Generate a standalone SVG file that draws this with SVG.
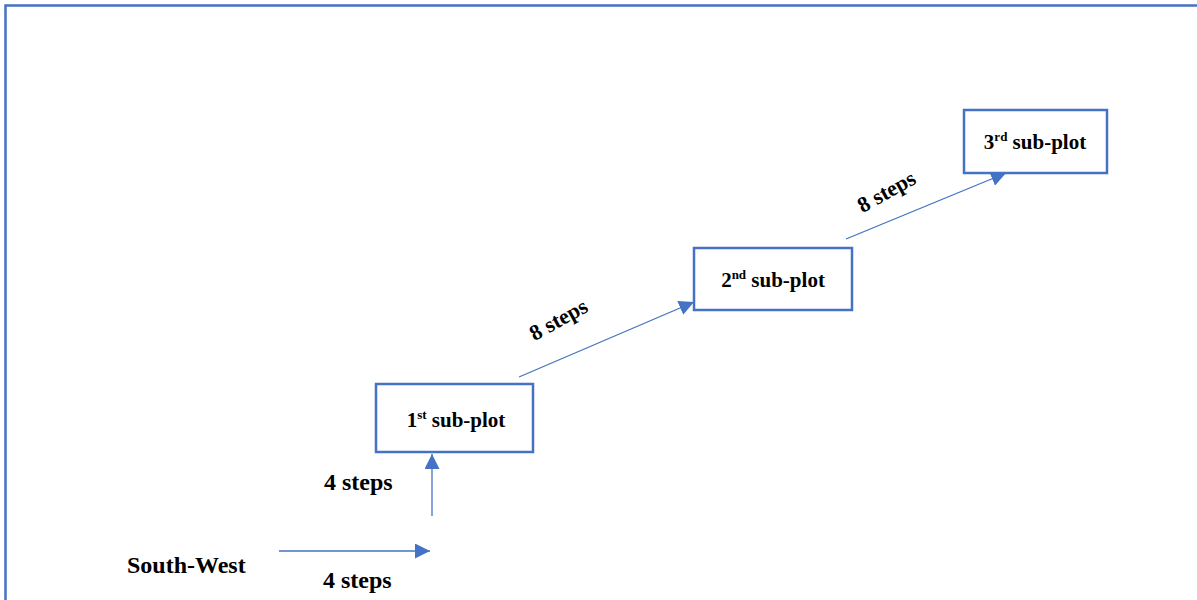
<svg xmlns="http://www.w3.org/2000/svg" width="1197" height="600" viewBox="0 0 1197 600">
<style>
.box{fill:#fff;stroke:#4472C4;stroke-width:2.5}
.lbl{font-family:"Liberation Serif","Times New Roman",serif;font-weight:bold;fill:#000}
.bt{font-size:21px}
.st{font-size:24px}
.rt{font-size:22px}
.conn{stroke:#4472C4;stroke-width:1.3;fill:none}
</style>
<defs>
<marker id="ah" viewBox="0 0 10 10" refX="10" refY="5" markerWidth="15" markerHeight="15" markerUnits="userSpaceOnUse" orient="auto">
<path d="M0,0 L10,5 L0,10 z" fill="#4472C4"/>
</marker>
</defs>
<rect width="1197" height="600" fill="#fff"/>
<path d="M5.5,600 V5.5 H1197" fill="none" stroke="#4472C4" stroke-width="2.5"/>
<g id="connectors">
<line class="conn" x1="279" y1="551" x2="430" y2="551" marker-end="url(#ah)"/>
<line class="conn" x1="432" y1="516" x2="432" y2="454" marker-end="url(#ah)"/>
<line class="conn" x1="519" y1="377" x2="694" y2="302" marker-end="url(#ah)"/>
<line class="conn" x1="846" y1="239" x2="1006" y2="173" marker-end="url(#ah)"/>
</g>
<g id="n-sw"><text class="lbl st" x="127" y="573">South-West</text></g>
<g id="n1">
<rect class="box" x="376" y="384" width="157" height="68"/>
<text class="lbl bt" x="456" y="427" text-anchor="middle">1<tspan font-size="13" dy="-8">st</tspan><tspan dy="8"> sub-plot</tspan></text>
</g>
<g id="n2">
<rect class="box" x="694" y="248" width="158" height="62"/>
<text class="lbl bt" x="773" y="287" text-anchor="middle">2<tspan font-size="13" dy="-8">nd</tspan><tspan dy="8"> sub-plot</tspan></text>
</g>
<g id="n3">
<rect class="box" x="964" y="110" width="143" height="63"/>
<text class="lbl bt" x="1035" y="149" text-anchor="middle">3<tspan font-size="13" dy="-8">rd</tspan><tspan dy="8"> sub-plot</tspan></text>
</g>
<g id="labels">
<text class="lbl st" x="324" y="490">4 steps</text>
<text class="lbl st" x="323" y="588">4 steps</text>
<text class="lbl rt" x="562" y="326" text-anchor="middle" transform="rotate(-29 562 326)">8 steps</text>
<text class="lbl rt" x="890" y="198" text-anchor="middle" transform="rotate(-29 890 198)">8 steps</text>
</g>
</svg>
